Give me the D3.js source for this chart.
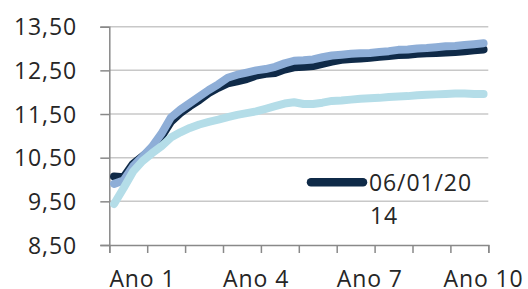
<!DOCTYPE html>
<html>
<head>
<meta charset="utf-8">
<script src="https://cdn.jsdelivr.net/npm/d3@7/dist/d3.min.js"></script>
<style>
  html, body { margin: 0; padding: 0; background: #ffffff; }
  svg { display: block; }
  text { font-family: "Open Sans", "Noto Sans", sans-serif; fill: #262626; letter-spacing: 0.9px; }
</style>
</head>
<body>
<svg id="chart" width="528" height="289"></svg>
<script>
// ---- data (quarterly points over 10 years) ----
const categories = [
  "T1","T2","T3","Ano 1","T1","T2","T3","Ano 2","T1","T2","T3","Ano 3",
  "T1","T2","T3","Ano 4","T1","T2","T3","Ano 5","T1","T2","T3","Ano 6",
  "T1","T2","T3","Ano 7","T1","T2","T3","Ano 8","T1","T2","T3","Ano 9",
  "T1","T2","T3","Ano 10"
];
const tickLabels = ["Ano 1", "Ano 4", "Ano 7", "Ano 10"];
const yTicks = [8.5, 9.5, 10.5, 11.5, 12.5, 13.5];
const seriesNames = ["06/01/2014", "Série 2", "Série 3"];

const serie1 = [10.07,10.05,10.36,10.53,10.70,10.98,11.32,11.52,11.68,11.82,
                11.98,12.10,12.20,12.25,12.30,12.38,12.42,12.44,12.52,12.57,
                12.58,12.60,12.65,12.70,12.74,12.76,12.77,12.79,12.81,12.83,
                12.85,12.86,12.88,12.89,12.90,12.91,12.92,12.94,12.96,12.98];
const serie2 = [9.90,9.98,10.30,10.52,10.75,11.05,11.42,11.60,11.75,11.90,
                12.05,12.18,12.33,12.40,12.45,12.50,12.53,12.58,12.66,12.72,
                12.73,12.75,12.80,12.84,12.86,12.88,12.89,12.90,12.92,12.94,
                12.97,12.98,13.00,13.01,13.03,13.05,13.06,13.08,13.10,13.12];
const serie3 = [9.44,9.80,10.18,10.42,10.60,10.76,10.96,11.08,11.18,11.26,
                11.32,11.37,11.43,11.48,11.52,11.56,11.62,11.68,11.74,11.77,
                11.73,11.73,11.76,11.80,11.81,11.83,11.85,11.86,11.87,11.89,
                11.90,11.91,11.93,11.94,11.95,11.96,11.97,11.97,11.96,11.96];
const colors = ["#0f2a48", "#8eaed7", "#b4dde8"];

// ---- layout ----
const svg = d3.select("#chart");
const mLeft = 109.3, mRight = 488.3, mTop = 26.7, mBottom = 245;

const x = d3.scaleLinear().domain([0, categories.length]).range([mLeft, mRight]);
const y = d3.scaleLinear().domain([8.5, 13.5]).range([mBottom, mTop]);

// gridlines
svg.append("g").selectAll("line")
  .data(yTicks.filter(d => d > 8.5))
  .join("line")
  .attr("x1", mLeft).attr("x2", mRight)
  .attr("y1", d => y(d)).attr("y2", d => y(d))
  .attr("stroke", "#c8c8c8").attr("stroke-width", 1.5);

// y axis
const fmt = d => d.toFixed(2).replace(".", ",");
const yAxis = svg.append("g").attr("transform", `translate(${mLeft},0)`)
  .call(d3.axisLeft(y).tickValues(yTicks).tickSize(9).tickPadding(0).tickFormat(fmt));
yAxis.select(".domain").attr("stroke", "#898989").attr("stroke-width", 1.5);
yAxis.selectAll(".tick line").attr("stroke", "#898989").attr("stroke-width", 1.5);
yAxis.selectAll(".tick text")
  .attr("x", 77 - mLeft).attr("dy", null).attr("y", 8.2)
  .attr("text-anchor", "end")
  .style("font-size", "23px").style("font-family", "'Open Sans', sans-serif").attr("fill", "#262626");

// x axis
const xTickVals = d3.range(0, categories.length + 1, 4);
const xAxis = svg.append("g").attr("transform", `translate(0,${mBottom})`)
  .call(d3.axisBottom(x).tickValues(xTickVals).tickSize(8).tickFormat(""));
xAxis.select(".domain").attr("stroke", "#898989").attr("stroke-width", 1.5);
xAxis.selectAll(".tick line").attr("stroke", "#898989").attr("stroke-width", 1.5);

svg.append("g").selectAll("text")
  .data(tickLabels)
  .join("text")
  .attr("x", d => x(categories.indexOf(d) + 0.5))
  .attr("y", 287)
  .attr("text-anchor", "middle")
  .style("font-size", "23px")
  .text(d => d);

// lines
const line = d3.line()
  .x((d, i) => x(i + 0.5))
  .y(d => y(d));

[serie1, serie2, serie3].forEach((s, k) => {
  svg.append("path")
    .datum(s)
    .attr("d", line)
    .attr("fill", "none")
    .attr("stroke", colors[k])
    .attr("stroke-width", 8)
    .attr("stroke-linejoin", "round")
    .attr("stroke-linecap", "round");
});

// legend (only first series visible)
const lg = svg.append("g");
lg.append("line")
  .attr("x1", 311).attr("x2", 363).attr("y1", 182.3).attr("y2", 182.3)
  .attr("stroke", colors[0]).attr("stroke-width", 8.5).attr("stroke-linecap", "round");
const lt = lg.append("text").style("font-size", "23px");
lt.append("tspan").attr("x", 369).attr("y", 190.5).text(seriesNames[0].slice(0, 8));
lt.append("tspan").attr("x", 370).attr("y", 224).text(seriesNames[0].slice(8));
</script>
</body>
</html>
